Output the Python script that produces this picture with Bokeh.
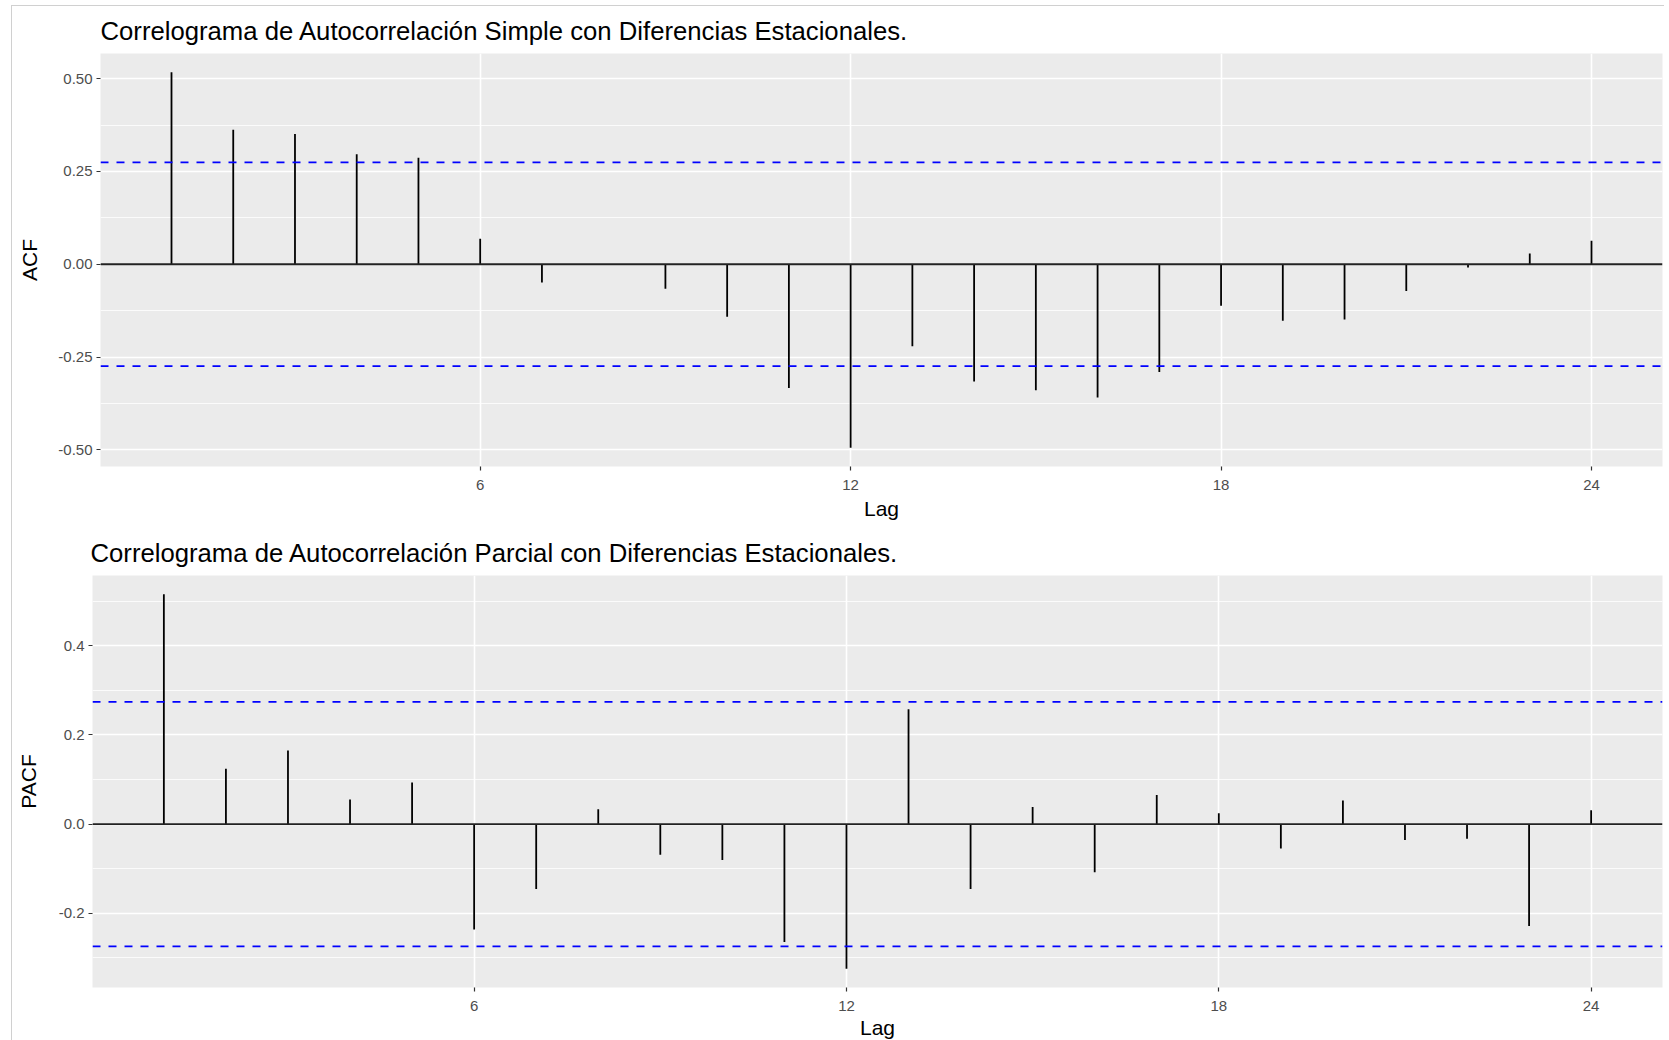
from bokeh.plotting import figure
from bokeh.models import Range1d, FixedTicker, Span
from bokeh.embed import file_html
from bokeh.resources import INLINE

# ---------------- data ----------------
lags = list(range(1, 25))
acf_values = [0.517, 0.362, 0.351, 0.296, 0.287, 0.069, -0.049, 0.000,
              -0.066, -0.141, -0.333, -0.494, -0.221, -0.316, -0.339, -0.359,
              -0.290, -0.112, -0.152, -0.149, -0.072, -0.009, 0.029, 0.063]
pacf_values = [0.516, 0.124, 0.165, 0.055, 0.093, -0.237, -0.146, 0.033,
               -0.069, -0.081, -0.265, -0.325, 0.258, -0.146, 0.038, -0.108,
               0.065, 0.024, -0.055, 0.053, -0.036, -0.033, -0.229, 0.031]
conf_limit = 0.2745
x_ticks = [6, 12, 18, 24]
acf_ticks = [-0.5, -0.25, 0.0, 0.25, 0.5]
acf_tick_labels = ["-0.50", "-0.25", "0.00", "0.25", "0.50"]
pacf_ticks = [-0.2, 0.0, 0.2, 0.4]
pacf_tick_labels = ["-0.2", "0.0", "0.2", "0.4"]
title_acf = "Correlograma de Autocorrelación Simple con Diferencias Estacionales."
title_pacf = "Correlograma de Autocorrelación Parcial con Diferencias Estacionales."

FONT = "Liberation Sans"
BORDER = "1px solid #D0D0D0"


def expand(vals, frac=0.05):
    lo, hi = min(vals), max(vals)
    d = (hi - lo) * frac
    return lo - d, hi + d


def make_panel(values, title, ylabel, yticks, ylabels, yminor,
               frame_w, frame_h, left, top, bottom, title_offset,
               ylab_standoff, xlab_standoff, margin, styles):
    ylo, yhi = expand(values + [conf_limit, -conf_limit])
    xlo, xhi = expand(lags)
    p = figure(frame_width=frame_w, frame_height=frame_h,
               output_backend="svg", toolbar_location=None,
               x_range=Range1d(xlo, xhi), y_range=Range1d(ylo, yhi),
               min_border_left=left, min_border_right=2, min_border_top=top,
               min_border_bottom=bottom, margin=margin, styles=styles)
    p.background_fill_color = "#EBEBEB"
    p.border_fill_color = "white"
    p.outline_line_color = None

    p.title.text = title
    p.title.text_font = FONT
    p.title.text_font_size = "25.7px"
    p.title.text_font_style = "normal"
    p.title.text_color = "black"
    p.title.align = "left"
    p.title.offset = title_offset
    p.title.standoff = 17
    p.title.text_line_height = 0.8

    p.xaxis.ticker = FixedTicker(ticks=x_ticks, minor_ticks=[])
    p.yaxis.ticker = FixedTicker(ticks=yticks, minor_ticks=yminor)
    p.yaxis.major_label_overrides = {t: l for t, l in zip(yticks, ylabels)}
    for ax in (p.xaxis, p.yaxis):
        ax.axis_line_color = None
        ax.major_tick_line_color = "#333333"
        ax.major_tick_line_width = 1.2
        ax.major_tick_out = 4
        ax.major_tick_in = 0
        ax.minor_tick_line_color = None
        ax.major_label_text_font = FONT
        ax.major_label_text_font_size = "15px"
        ax.major_label_text_color = "#4D4D4D"
        ax.axis_label_text_font = FONT
        ax.axis_label_text_font_size = "21px"
        ax.axis_label_text_font_style = "normal"
        ax.axis_label_text_color = "black"
    p.xaxis.axis_label = "Lag"
    p.yaxis.axis_label = ylabel
    p.xaxis.major_label_standoff = 9
    p.yaxis.major_label_standoff = 4
    p.xaxis.axis_label_standoff = xlab_standoff
    p.yaxis.axis_label_standoff = ylab_standoff

    p.xgrid.grid_line_color = "white"
    p.xgrid.grid_line_width = 1.6
    p.ygrid.grid_line_color = "white"
    p.ygrid.grid_line_width = 1.6
    p.ygrid.minor_grid_line_color = "white"
    p.ygrid.minor_grid_line_width = 0.8

    p.segment(x0=lags, y0=[0] * len(lags), x1=lags, y1=values,
              line_color="black", line_width=1.8)
    p.add_layout(Span(location=0, dimension="width", line_color="#222222", line_width=1.8))
    for loc in (conf_limit, -conf_limit):
        p.add_layout(Span(location=loc, dimension="width", line_color="#0000FF",
                          line_width=1.8, line_dash="8 8"))
    return p


p1 = make_panel(acf_values, title_acf, "ACF", acf_ticks, acf_tick_labels,
                [-0.375, -0.125, 0.125, 0.375],
                1562, 413, 88, 47, 54, 0, 14, 4, (5, 0, 0, 11),
                {"border-top": BORDER, "border-left": BORDER})
p2 = make_panel(pacf_values, title_pacf, "PACF", pacf_ticks, pacf_tick_labels,
                [-0.3, -0.1, 0.1, 0.3, 0.5],
                1570, 412, 80, 53, 44, -2, 16, 2, (0, 0, 0, 11),
                {"border-left": BORDER})

open("out.html", "w").write(file_html([p1, p2], INLINE))
